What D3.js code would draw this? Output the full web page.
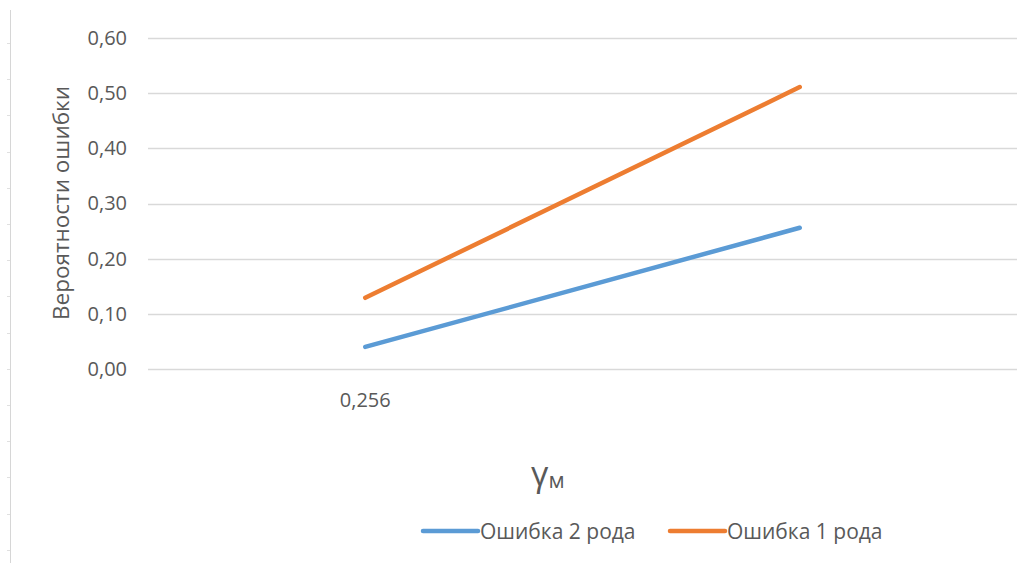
<!DOCTYPE html>
<html>
<head>
<meta charset="utf-8">
<script src="https://cdn.jsdelivr.net/npm/d3@7"></script>
<style>
  html, body { margin: 0; padding: 0; background: #fff; }
  svg text { font-family: "Open Sans", "Noto Sans", sans-serif; fill: #595959; }
</style>
</head>
<body>
<svg id="chart" width="1032" height="563"></svg>
<script>
// Categories on the x axis (second one has no label)
const categories = ["0,256", ""];
// Error probabilities per series
const seriesNames = ["Ошибка 2 рода", "Ошибка 1 рода"];
const type2Values = [0.040, 0.256];
const type1Values = [0.129, 0.511];
const yTicks = [0, 0.1, 0.2, 0.3, 0.4, 0.5, 0.6];
const colors = ["#5B9BD5", "#ED7D31"];

const series = [
  { name: seriesNames[0], values: type2Values, color: colors[0] },
  { name: seriesNames[1], values: type1Values, color: colors[1] }
];

const svg = d3.select("#chart");
const plot = { left: 148, right: 1017, top: 38, bottom: 369 };

// Page ruler line on the left edge
const ruler = svg.append("g");
ruler.append("line")
  .attr("x1", 10.5).attr("x2", 10.5).attr("y1", 10).attr("y2", 563)
  .attr("stroke", "#d6d6d6").attr("stroke-width", 1);
d3.range(43, 563, 36.2).forEach(y => {
  ruler.append("line")
    .attr("x1", 7).attr("x2", 10).attr("y1", Math.round(y) + 0.5).attr("y2", Math.round(y) + 0.5)
    .attr("stroke", "#e0e0e0").attr("stroke-width", 1);
});

const x = d3.scaleBand().domain(d3.range(categories.length))
  .range([plot.left, plot.right]).padding(0);
const y = d3.scaleLinear().domain([0, 0.6]).range([plot.bottom, plot.top]);

// Horizontal gridlines
svg.append("g")
  .selectAll("line").data(yTicks).join("line")
  .attr("x1", plot.left).attr("x2", plot.right)
  .attr("y1", d => Math.round(y(d)) + 0.5).attr("y2", d => Math.round(y(d)) + 0.5)
  .attr("stroke", "#d9d9d9").attr("stroke-width", 1.3);

// Y axis labels
const yAxis = d3.axisLeft(y).tickValues(yTicks)
  .tickFormat(d => d3.format(".2f")(d).replace(".", ","))
  .tickSize(0).tickPadding(21);
svg.append("g")
  .attr("transform", `translate(${plot.left},0)`)
  .call(yAxis)
  .call(g => g.select(".domain").remove())
  .call(g => g.selectAll("text").style("font-size", "20px").attr("fill", "#595959")
    .style("font-family", "'Open Sans', sans-serif"));

// X axis labels
const xAxis = d3.axisBottom(x).tickFormat(i => categories[i]).tickSize(0);
svg.append("g")
  .attr("transform", `translate(0,${plot.bottom})`)
  .call(xAxis)
  .call(g => g.select(".domain").remove())
  .call(g => g.selectAll("text").attr("y", 31).attr("dy", "0.35em")
    .style("font-size", "20px").attr("fill", "#595959")
    .style("font-family", "'Open Sans', sans-serif"));

// Y axis title
svg.append("text")
  .attr("transform", "translate(69,203) rotate(-90)")
  .attr("text-anchor", "middle")
  .style("font-size", "22.5px")
  .text("Вероятности ошибки");

// X axis title: gamma with subscript
const xt = svg.append("text")
  .attr("x", 531).attr("y", 486)
  .style("font-size", "34px");
xt.append("tspan").text("γ");
xt.append("tspan").attr("dy", 2).style("font-size", "22px").text("м");

// Series lines
const line = d3.line()
  .x((d, i) => x(i) + x.bandwidth() / 2)
  .y(d => y(d));
svg.append("g")
  .selectAll("path").data(series).join("path")
  .attr("d", d => line(d.values))
  .attr("fill", "none")
  .attr("stroke", d => d.color)
  .attr("stroke-width", 4.5)
  .attr("stroke-linecap", "round");

// Legend
const legendX = [423, 670];
const legend = svg.append("g").selectAll("g").data(series).join("g")
  .attr("transform", (d, i) => `translate(${legendX[i]},531)`);
legend.append("line")
  .attr("x1", 0).attr("x2", 55).attr("y1", 0).attr("y2", 0)
  .attr("stroke", d => d.color).attr("stroke-width", 4.5).attr("stroke-linecap", "round");
legend.append("text")
  .attr("x", 57).attr("y", 7.5)
  .style("font-size", "21px")
  .text(d => d.name);
</script>
</body>
</html>
